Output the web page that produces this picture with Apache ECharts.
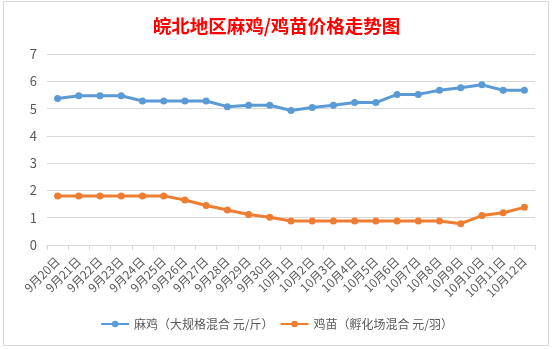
<!DOCTYPE html>
<html>
<head>
<meta charset="utf-8">
<script src="https://cdn.jsdelivr.net/npm/echarts@6/dist/echarts.min.js"></script>
<style>
html,body{margin:0;padding:0;background:#fff;}
#c{width:553px;height:349px;}
</style>
</head>
<body>
<div id="c"></div>
<script>
const categories = ['9月20日','9月21日','9月22日','9月23日','9月24日','9月25日','9月26日','9月27日','9月28日','9月29日','9月30日','10月1日','10月2日','10月3日','10月4日','10月5日','10月6日','10月7日','10月8日','10月9日','10月10日','10月11日','10月12日'];
const maji = [5.37,5.47,5.47,5.47,5.28,5.28,5.28,5.28,5.07,5.12,5.12,4.93,5.04,5.12,5.22,5.22,5.52,5.52,5.67,5.76,5.87,5.67,5.67];
const jimiao = [1.8,1.8,1.8,1.8,1.8,1.8,1.65,1.45,1.28,1.12,1.02,0.88,0.88,0.88,0.88,0.88,0.88,0.88,0.88,0.78,1.08,1.18,1.38];
const seriesNames = ['麻鸡（大规格混合 元/斤）','鸡苗（孵化场混合 元/羽）'];
const titleText = '皖北地区麻鸡/鸡苗价格走势图';

const chart = echarts.init(document.getElementById('c'), null, {renderer:'canvas'});
const font = '"Noto Sans CJK SC","Microsoft YaHei",sans-serif';
chart.setOption({
  animation:false,
  backgroundColor:'#fff',
  textStyle:{fontFamily:font},
  title:{
    text:titleText, left:'center', top:12,
    textStyle:{color:'#ff0000', fontSize:18.5, fontWeight:'bold', fontFamily:font}
  },
  graphic:[{type:'rect', shape:{x:3.5,y:1.5,width:545,height:344}, style:{fill:'none', stroke:'#d9d9d9', lineWidth:1}, silent:true}],
  grid:{left:47, right:18, top:54, bottom:104},
  legend:{
    bottom:14, left:'center', itemWidth:28, itemHeight:8, itemGap:6,
    textStyle:{color:'#595959', fontSize:12, fontFamily:font},
    data:seriesNames
  },
  xAxis:{
    type:'category', data:categories, boundaryGap:true,
    axisLine:{lineStyle:{color:'#d9d9d9'}},
    axisTick:{show:true, length:5, lineStyle:{color:'#d9d9d9'}},
    axisLabel:{rotate:45, interval:0, color:'#595959', fontSize:12, margin:14, fontFamily:font}
  },
  yAxis:{
    type:'value', min:0, max:7, interval:1,
    axisLine:{show:false}, axisTick:{show:false},
    splitLine:{lineStyle:{color:'#d9d9d9'}},
    axisLabel:{color:'#595959', fontSize:13, margin:10, fontFamily:font}
  },
  series:[
    {name:seriesNames[0], type:'line', data:maji, symbol:'circle', symbolSize:7,
     lineStyle:{color:'#5b9bd5', width:3}, itemStyle:{color:'#5b9bd5'}},
    {name:seriesNames[1], type:'line', data:jimiao, symbol:'circle', symbolSize:7,
     lineStyle:{color:'#ed7d31', width:3}, itemStyle:{color:'#ed7d31'}}
  ]
});
</script>
</body>
</html>
